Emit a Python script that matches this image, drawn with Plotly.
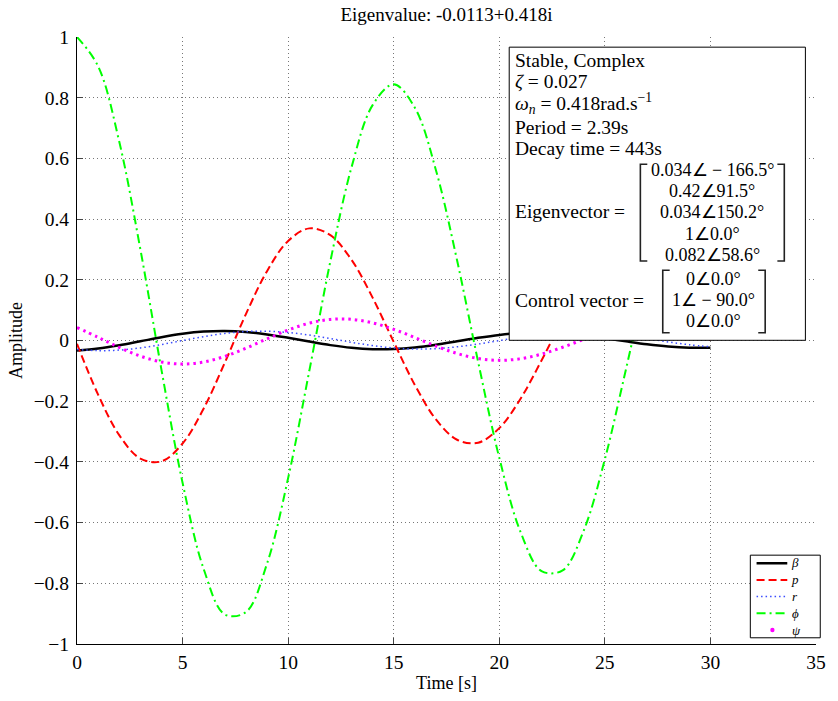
import plotly.graph_objects as go

# ---------------- data ----------------
time_s = list(range(0, 31))

beta = [-0.03306, -0.02669, -0.01591, -0.00267, 0.01074, 0.02202, 0.02929, 0.03141,
        0.02813, 0.02013, 0.00888, -0.00363, -0.01524, -0.02400, -0.02847, -0.02799,
        -0.02275, -0.01375, -0.00261, 0.00872, 0.01832, 0.02458, 0.02652, 0.02389,
        0.01725, 0.00782, -0.00273, -0.01258, -0.02007, -0.02397, -0.02369]

p_rate = [-0.01099, -0.17845, -0.31176, -0.38897, -0.39817, -0.33933, -0.22399, -0.07306,
          0.08696, 0.22858, 0.32807, 0.36945, 0.34697, 0.26585, 0.14126, -0.00461,
          -0.14644, -0.26015, -0.32700, -0.33663, -0.28869, -0.19264, -0.06590, 0.06924,
          0.18955, 0.27486, 0.31145, 0.29416, 0.22713, 0.12289, 0.00005]

r_rate = [-0.02950, -0.03344, -0.03159, -0.02441, -0.01322, -0.00003, 0.01287, 0.02329,
          0.02951, 0.03056, 0.02638, 0.01780, 0.00638, -0.00588, -0.01685, -0.02471,
          -0.02819, -0.02678, -0.02084, -0.01149, -0.00038, 0.01054, 0.01942, 0.02480,
          0.02582, 0.02243, 0.01529, 0.00570, -0.00464, -0.01396, -0.02069]

phi = [1.00000, 0.90364, 0.65544, 0.30114, -0.09659, -0.46894, -0.75307, -0.90254,
       -0.89489, -0.73492, -0.45334, -0.10079, 0.26107, 0.57034, 0.77551, 0.84397,
       0.76713, 0.56127, 0.26439, -0.07094, -0.38665, -0.62944, -0.75954, -0.75734,
       -0.62612, -0.39118, -0.09483, 0.21106, 0.47414, 0.65055, 0.71217]

psi = [0.04272, 0.01051, -0.02277, -0.05142, -0.07068, -0.07746, -0.07089, -0.05239,
       -0.02538, 0.00536, 0.03449, 0.05710, 0.06947, 0.06973, 0.05810, 0.03683,
       0.00977, -0.01836, -0.04273, -0.05928, -0.06535, -0.06016, -0.04483, -0.02220,
       0.00370, 0.02839, 0.04769, 0.05844, 0.05899, 0.04947, 0.03174]

series_names = ["<i>β</i>", "<i>p</i>", "<i>r</i>", "<i>ϕ</i>", "<i>ψ</i>"]

x_tickvals = [0, 5, 10, 15, 20, 25, 30, 35]
y_tickvals = [-1, -0.8, -0.6, -0.4, -0.2, 0, 0.2, 0.4, 0.6, 0.8, 1]
y_ticktext = ["−1", "−0.8", "−0.6", "−0.4", "−0.2", "0", "0.2", "0.4", "0.6", "0.8", "1"]

title_text = "Eigenvalue: -0.0113+0.418i"
info_lines = ["Stable, Complex",
              "<i>ζ</i> = 0.027",
              "<i>ω</i><sub><i>n</i></sub> = 0.418rad.s<sup>−1</sup>",
              "Period = 2.39s",
              "Decay time = 443s"]
eigvec = ["0.034∠ − 166.5°", "0.42∠91.5°", "0.034∠150.2°", "1∠0.0°", "0.082∠58.6°"]
ctrlvec = ["0∠0.0°", "1∠ − 90.0°", "0∠0.0°"]

# ---------------- styles ----------------
styles = [
    dict(color="black", width=2.5, dash="solid"),
    dict(color="#ff0000", width=2, dash="8px,4px"),
    dict(color="#3a4cff", width=1.5, dash="1.5px,3px"),
    dict(color="#00ff00", width=2, dash="9px,4px,2px,4px"),
    dict(color="#ff00ff", width=3, dash="2.5px,4px"),
]

W, H = 838, 701
L, R, T, B = 77, 823, 37, 652
def PX(x):
    return (x - L) / (R - L)
def PY(y):
    return (B - y) / (B - T)

FONT = "Liberation Serif"

fig = go.Figure()
for name, yv, st in zip(series_names, [beta, p_rate, r_rate, phi, psi], styles):
    fig.add_trace(go.Scatter(x=time_s, y=yv, name=name, mode="lines", showlegend=False,
                             line=dict(color=st["color"], width=st["width"], dash=st["dash"],
                                       shape="spline", smoothing=1.0)))

shapes = []
annotations = []

# ---------- info box ----------
shapes.append(dict(type="rect", xref="paper", yref="paper", layer="above",
                   x0=PX(513.3), x1=PX(812.3), y0=PY(344.3), y1=PY(47.3),
                   line=dict(color="black", width=1), fillcolor="white"))

tf = dict(family=FONT, size=19.5, color="black")
mf = dict(family=FONT, size=18, color="black")
info_y = [61.0, 82.5, 104.0, 128.5, 150.0]
for txt, yy in zip(info_lines, info_y):
    annotations.append(dict(text=txt, xref="paper", yref="paper", x=PX(518), y=PY(yy),
                            xanchor="left", yanchor="middle", showarrow=False, font=tf,
                            borderpad=0))
annotations.append(dict(text="Eigenvector =", xref="paper", yref="paper", x=PX(518), y=PY(214),
                        xanchor="left", yanchor="middle", showarrow=False, font=tf, borderpad=0))
annotations.append(dict(text="Control vector =", xref="paper", yref="paper", x=PX(518), y=PY(304),
                        xanchor="left", yanchor="middle", showarrow=False, font=tf, borderpad=0))
eig_y = [171.5, 193.0, 214.5, 236.5, 258.0]
for txt, yy in zip(eigvec, eig_y):
    annotations.append(dict(text=txt, xref="paper", yref="paper", x=PX(718.5), y=PY(yy),
                            xanchor="center", yanchor="middle", showarrow=False, font=mf,
                            borderpad=0))
ctrl_y = [282.0, 303.5, 325.0]
for txt, yy in zip(ctrlvec, ctrl_y):
    annotations.append(dict(text=txt, xref="paper", yref="paper", x=PX(720), y=PY(yy),
                            xanchor="center", yanchor="middle", showarrow=False, font=mf,
                            borderpad=0))

def bracket(xl, xr, yt, yb, serif=7):
    out = []
    bl = dict(color="#222", width=1.6)
    out.append(dict(type="path", xref="paper", yref="paper", layer="above", line=bl,
                    path=f"M {PX(xl+serif)} {PY(yt)} L {PX(xl)} {PY(yt)} L {PX(xl)} {PY(yb)} L {PX(xl+serif)} {PY(yb)}"))
    out.append(dict(type="path", xref="paper", yref="paper", layer="above", line=bl,
                    path=f"M {PX(xr-serif)} {PY(yt)} L {PX(xr)} {PY(yt)} L {PX(xr)} {PY(yb)} L {PX(xr-serif)} {PY(yb)}"))
    return out

shapes += bracket(645.7, 791.0, 166.0, 264.0)
shapes += bracket(668.3, 771.7, 273.3, 336.7)

# ---------- legend box (MATLAB style) ----------
shapes.append(dict(type="rect", xref="paper", yref="paper", layer="above",
                   x0=PX(756.7), x1=PX(827.3), y0=PY(645.7), y1=PY(562),
                   line=dict(color="black", width=1), fillcolor="white"))
LEG_SIZE = 13
leg_step = LEG_SIZE * 1.3
leg_mid = 604
leg_y = [leg_mid + (i - 2) * leg_step for i in range(5)]
for i, (st, yy) in enumerate(zip(styles, leg_y)):
    if i < 4:
        shapes.append(dict(type="line", xref="paper", yref="paper", layer="above",
                           x0=PX(763), x1=PX(794), y0=PY(yy), y1=PY(yy),
                           line=dict(color=st["color"], width=st["width"], dash=st["dash"])))
    else:
        shapes.append(dict(type="circle", xref="paper", yref="paper", layer="above",
                           x0=PX(776.8), x1=PX(781.2), y0=PY(yy + 2.2), y1=PY(yy - 2.2),
                           line=dict(width=0), fillcolor=st["color"]))
annotations.append(dict(text="<br>".join(series_names), xref="paper", yref="paper",
                        x=PX(797), y=PY(leg_mid), xanchor="left", yanchor="middle",
                        align="left", showarrow=False, borderpad=0,
                        font=dict(family=FONT, size=LEG_SIZE, color="black")))

axis_font = dict(family=FONT, size=19.5, color="black")

fig.update_layout(
    width=W, height=H,
    margin=dict(l=L, r=W - R, t=T, b=H - B, pad=0),
    paper_bgcolor="white", plot_bgcolor="white",
    font=dict(family=FONT, color="black"),
    title=dict(text=title_text, x=0.5, xref="paper", y=1 - 14 / H, yref="container",
               xanchor="center", yanchor="middle", font=dict(family=FONT, size=19, color="black")),
    shapes=shapes, annotations=annotations,
    showlegend=False,
)
fig.update_xaxes(range=[0, 35], tickvals=x_tickvals, ticks="inside", ticklen=6,
                 showline=True, linecolor="black", linewidth=1.2, mirror=False,
                 showgrid=True, gridcolor="#777777", griddash="1px,3px", gridwidth=1,
                 zeroline=False, tickfont=axis_font,
                 title=dict(text="Time [s]", font=dict(family=FONT, size=18), standoff=4))
fig.update_yaxes(range=[-1, 1], tickvals=y_tickvals, ticktext=y_ticktext, ticks="inside", ticklen=6,
                 showline=True, linecolor="black", linewidth=1.2, mirror=False,
                 showgrid=True, gridcolor="#777777", griddash="1px,3px", gridwidth=1,
                 zeroline=False, tickfont=axis_font, ticklabelstandoff=3,
                 title=dict(text="Amplitude", font=dict(family=FONT, size=18), standoff=6))

fig.write_html("out.html")
